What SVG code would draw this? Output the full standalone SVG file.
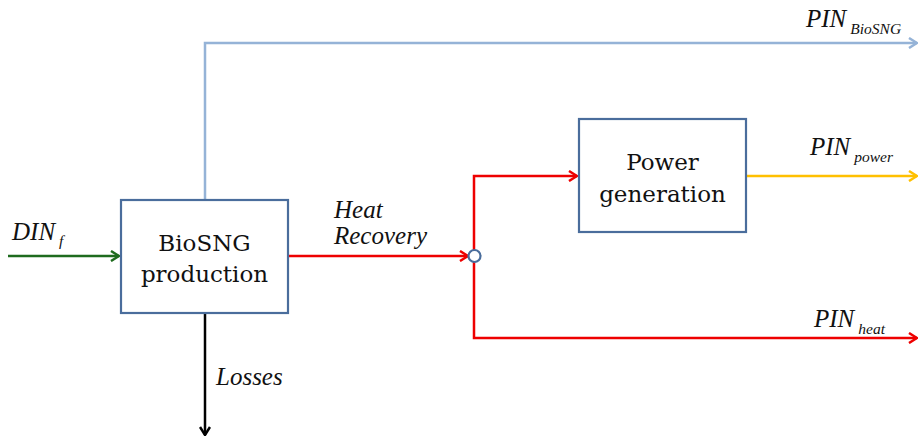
<svg xmlns="http://www.w3.org/2000/svg" width="920" height="438" viewBox="0 0 920 438">
<defs>
<style>
.box{fill:#fff;stroke:#4a6d9c;stroke-width:2.2}
.bt{font-size:23px;fill:#111;text-anchor:middle}
.lb{font-family:"Liberation Serif","DejaVu Serif",serif;font-style:italic;font-size:25px;fill:#111}
.sub{font-size:15.5px}
.ln{fill:none;stroke-width:2.5}
</style>
<marker id="aG" viewBox="0 0 12 12" refX="11" refY="6" markerWidth="12" markerHeight="12" markerUnits="userSpaceOnUse" orient="auto"><polyline points="3,1 11,6 3,11" fill="none" stroke="#1e6b1e" stroke-width="2.5"/></marker>
<marker id="aR" viewBox="0 0 12 12" refX="11" refY="6" markerWidth="12" markerHeight="12" markerUnits="userSpaceOnUse" orient="auto"><polyline points="3,1 11,6 3,11" fill="none" stroke="#ee0000" stroke-width="2.5"/></marker>
<marker id="aB" viewBox="0 0 12 12" refX="11" refY="6" markerWidth="12" markerHeight="12" markerUnits="userSpaceOnUse" orient="auto"><polyline points="3,1 11,6 3,11" fill="none" stroke="#95b3d7" stroke-width="2.5"/></marker>
<marker id="aY" viewBox="0 0 12 12" refX="11" refY="6" markerWidth="12" markerHeight="12" markerUnits="userSpaceOnUse" orient="auto"><polyline points="3,1 11,6 3,11" fill="none" stroke="#ffc000" stroke-width="2.5"/></marker>
<marker id="aK" viewBox="0 0 12 12" refX="11" refY="6" markerWidth="12" markerHeight="12" markerUnits="userSpaceOnUse" orient="auto"><polyline points="3,1 11,6 3,11" fill="none" stroke="#000" stroke-width="2.5"/></marker>
</defs>
<rect width="920" height="438" fill="#fff"/>
<g id="connectors">
<polyline class="ln" points="8,256 119,256" stroke="#1e6b1e" marker-end="url(#aG)"/>
<polyline class="ln" points="205,199 205,43 917,43" stroke="#95b3d7" marker-end="url(#aB)"/>
<polyline class="ln" points="289,256 468,256" stroke="#ee0000" marker-end="url(#aR)"/>
<polyline class="ln" points="474,250 474,176 577,176" stroke="#ee0000" marker-end="url(#aR)"/>
<polyline class="ln" points="474,262 474,338 917,338" stroke="#ee0000" marker-end="url(#aR)"/>
<polyline class="ln" points="747,176 917,176" stroke="#ffc000" marker-end="url(#aY)"/>
<polyline class="ln" points="205,314 205,435" stroke="#000" marker-end="url(#aK)"/>
<circle cx="474.5" cy="256" r="6" fill="#fff" stroke="#4a6d9c" stroke-width="2.2"/>
</g>
<g id="biosng">
<rect class="box" x="121" y="200" width="167" height="113"/>
<text class="bt" font-family="DejaVu Serif, serif" x="204.5" y="251">BioSNG</text>
<text class="bt" font-family="DejaVu Serif, serif" x="204.5" y="282">production</text>
</g>
<g id="power">
<rect class="box" x="579" y="119" width="167" height="113"/>
<text class="bt" font-family="DejaVu Serif, serif" x="662.5" y="170">Power</text>
<text class="bt" font-family="DejaVu Serif, serif" x="662.5" y="202">generation</text>
</g>
<g id="labels">
<text class="lb" x="12" y="240">DIN<tspan class="sub" dx="4" dy="6">f</tspan></text>
<text class="lb" x="334" y="218">Heat</text>
<text class="lb" x="334" y="244">Recovery</text>
<text class="lb" x="216" y="385">Losses</text>
<text class="lb" x="806" y="27">PIN<tspan class="sub" dx="4" dy="7">BioSNG</tspan></text>
<text class="lb" x="810" y="155">PIN<tspan class="sub" dx="4" dy="7">power</tspan></text>
<text class="lb" x="814" y="327">PIN<tspan class="sub" dx="4" dy="7">heat</tspan></text>
</g>
</svg>
